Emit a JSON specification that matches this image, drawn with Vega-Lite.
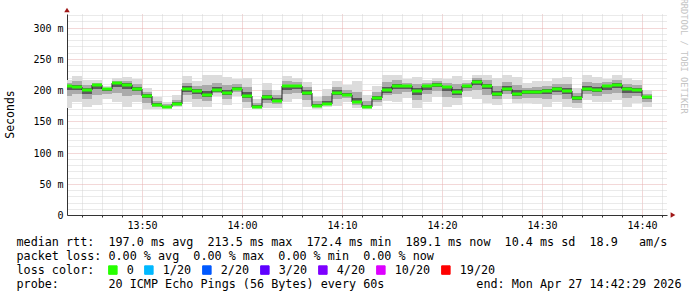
{
  "$schema": "https://vega.github.io/schema/vega-lite/v6.json",
  "width": 600,
  "height": 201,
  "autosize": {"type": "none"},
  "padding": {"left": 67, "top": 14, "right": 30, "bottom": 82},
  "background": "white",
  "title": {"text": "RRDTOOL / TOBI OETIKER", "orient": "right", "anchor": "start", "offset": -2, "font": "DejaVu Sans Mono", "fontSize": 8.7, "fontWeight": "normal", "color": "#c4c4c4", "dx": -9},
  "datasets": {
    "median": [
      {"t":"2026-04-27T13:42","t2":"2026-04-27T13:43","v":207.4,"loss":"0"},
      {"t":"2026-04-27T13:43","t2":"2026-04-27T13:44","v":205.8,"loss":"0"},
      {"t":"2026-04-27T13:44","t2":"2026-04-27T13:45","v":199.9,"loss":"0"},
      {"t":"2026-04-27T13:45","t2":"2026-04-27T13:46","v":208,"loss":"0"},
      {"t":"2026-04-27T13:46","t2":"2026-04-27T13:47","v":201.6,"loss":"0"},
      {"t":"2026-04-27T13:47","t2":"2026-04-27T13:48","v":210.7,"loss":"0"},
      {"t":"2026-04-27T13:48","t2":"2026-04-27T13:49","v":208.6,"loss":"0"},
      {"t":"2026-04-27T13:49","t2":"2026-04-27T13:50","v":202.6,"loss":"0"},
      {"t":"2026-04-27T13:50","t2":"2026-04-27T13:51","v":191.4,"loss":"0"},
      {"t":"2026-04-27T13:51","t2":"2026-04-27T13:52","v":177,"loss":"0"},
      {"t":"2026-04-27T13:52","t2":"2026-04-27T13:53","v":173.3,"loss":"0"},
      {"t":"2026-04-27T13:53","t2":"2026-04-27T13:54","v":177.6,"loss":"0"},
      {"t":"2026-04-27T13:54","t2":"2026-04-27T13:55","v":201.6,"loss":"0"},
      {"t":"2026-04-27T13:55","t2":"2026-04-27T13:56","v":198.9,"loss":"0"},
      {"t":"2026-04-27T13:56","t2":"2026-04-27T13:57","v":193,"loss":"0"},
      {"t":"2026-04-27T13:57","t2":"2026-04-27T13:58","v":199.5,"loss":"0"},
      {"t":"2026-04-27T13:58","t2":"2026-04-27T13:59","v":196.2,"loss":"0"},
      {"t":"2026-04-27T13:59","t2":"2026-04-27T14:00","v":202.2,"loss":"0"},
      {"t":"2026-04-27T14:00","t2":"2026-04-27T14:01","v":191.4,"loss":"0"},
      {"t":"2026-04-27T14:01","t2":"2026-04-27T14:02","v":172.8,"loss":"0"},
      {"t":"2026-04-27T14:02","t2":"2026-04-27T14:03","v":188.8,"loss":"0"},
      {"t":"2026-04-27T14:03","t2":"2026-04-27T14:04","v":183.4,"loss":"0"},
      {"t":"2026-04-27T14:04","t2":"2026-04-27T14:05","v":205.9,"loss":"0"},
      {"t":"2026-04-27T14:05","t2":"2026-04-27T14:06","v":206.5,"loss":"0"},
      {"t":"2026-04-27T14:06","t2":"2026-04-27T14:07","v":196.2,"loss":"0"},
      {"t":"2026-04-27T14:07","t2":"2026-04-27T14:08","v":174.4,"loss":"0"},
      {"t":"2026-04-27T14:08","t2":"2026-04-27T14:09","v":178.4,"loss":"0"},
      {"t":"2026-04-27T14:09","t2":"2026-04-27T14:10","v":196.2,"loss":"0"},
      {"t":"2026-04-27T14:10","t2":"2026-04-27T14:11","v":193,"loss":"0"},
      {"t":"2026-04-27T14:11","t2":"2026-04-27T14:12","v":181.3,"loss":"0"},
      {"t":"2026-04-27T14:12","t2":"2026-04-27T14:13","v":172.4,"loss":"0"},
      {"t":"2026-04-27T14:13","t2":"2026-04-27T14:14","v":187.7,"loss":"0"},
      {"t":"2026-04-27T14:14","t2":"2026-04-27T14:15","v":200.5,"loss":"0"},
      {"t":"2026-04-27T14:15","t2":"2026-04-27T14:16","v":207,"loss":"0"},
      {"t":"2026-04-27T14:16","t2":"2026-04-27T14:17","v":205.9,"loss":"0"},
      {"t":"2026-04-27T14:17","t2":"2026-04-27T14:18","v":198.4,"loss":"0"},
      {"t":"2026-04-27T14:18","t2":"2026-04-27T14:19","v":205.9,"loss":"0"},
      {"t":"2026-04-27T14:19","t2":"2026-04-27T14:20","v":208.6,"loss":"0"},
      {"t":"2026-04-27T14:20","t2":"2026-04-27T14:21","v":204.3,"loss":"0"},
      {"t":"2026-04-27T14:21","t2":"2026-04-27T14:22","v":197.3,"loss":"0"},
      {"t":"2026-04-27T14:22","t2":"2026-04-27T14:23","v":207,"loss":"0"},
      {"t":"2026-04-27T14:23","t2":"2026-04-27T14:24","v":213.5,"loss":"0"},
      {"t":"2026-04-27T14:24","t2":"2026-04-27T14:25","v":207,"loss":"0"},
      {"t":"2026-04-27T14:25","t2":"2026-04-27T14:26","v":194.1,"loss":"0"},
      {"t":"2026-04-27T14:26","t2":"2026-04-27T14:27","v":201.6,"loss":"0"},
      {"t":"2026-04-27T14:27","t2":"2026-04-27T14:28","v":194.1,"loss":"0"},
      {"t":"2026-04-27T14:28","t2":"2026-04-27T14:29","v":197.3,"loss":"0"},
      {"t":"2026-04-27T14:29","t2":"2026-04-27T14:30","v":197.3,"loss":"0"},
      {"t":"2026-04-27T14:30","t2":"2026-04-27T14:31","v":198.9,"loss":"0"},
      {"t":"2026-04-27T14:31","t2":"2026-04-27T14:32","v":201.6,"loss":"0"},
      {"t":"2026-04-27T14:32","t2":"2026-04-27T14:33","v":198.9,"loss":"0"},
      {"t":"2026-04-27T14:33","t2":"2026-04-27T14:34","v":187.2,"loss":"0"},
      {"t":"2026-04-27T14:34","t2":"2026-04-27T14:35","v":202.2,"loss":"0"},
      {"t":"2026-04-27T14:35","t2":"2026-04-27T14:36","v":200.5,"loss":"0"},
      {"t":"2026-04-27T14:36","t2":"2026-04-27T14:37","v":207,"loss":"0"},
      {"t":"2026-04-27T14:37","t2":"2026-04-27T14:38","v":207.5,"loss":"0"},
      {"t":"2026-04-27T14:38","t2":"2026-04-27T14:39","v":201.6,"loss":"0"},
      {"t":"2026-04-27T14:39","t2":"2026-04-27T14:40","v":200.5,"loss":"0"},
      {"t":"2026-04-27T14:40","t2":"2026-04-27T14:41","v":189.1,"loss":"0"}
    ],
    "bands": [
      {"t":"2026-04-27T13:42","t2":"2026-04-27T13:43","band":"b1","v":171.7,"v2":216.6},
      {"t":"2026-04-27T13:43","t2":"2026-04-27T13:44","band":"b1","v":181.8,"v2":223},
      {"t":"2026-04-27T13:44","t2":"2026-04-27T13:45","band":"b1","v":172.8,"v2":216.6},
      {"t":"2026-04-27T13:45","t2":"2026-04-27T13:46","band":"b1","v":176.5,"v2":216.6},
      {"t":"2026-04-27T13:46","t2":"2026-04-27T13:47","band":"b1","v":185.6,"v2":205.9},
      {"t":"2026-04-27T13:47","t2":"2026-04-27T13:48","band":"b1","v":181.8,"v2":219.3},
      {"t":"2026-04-27T13:48","t2":"2026-04-27T13:49","band":"b1","v":173.8,"v2":221},
      {"t":"2026-04-27T13:49","t2":"2026-04-27T13:50","band":"b1","v":181.8,"v2":217.7},
      {"t":"2026-04-27T13:50","t2":"2026-04-27T13:51","band":"b1","v":169.6,"v2":203.2},
      {"t":"2026-04-27T13:51","t2":"2026-04-27T13:52","band":"b1","v":169.6,"v2":189.8},
      {"t":"2026-04-27T13:52","t2":"2026-04-27T13:53","band":"b1","v":169.6,"v2":181.8},
      {"t":"2026-04-27T13:53","t2":"2026-04-27T13:54","band":"b1","v":172.8,"v2":192.5},
      {"t":"2026-04-27T13:54","t2":"2026-04-27T13:55","band":"b1","v":181.8,"v2":223},
      {"t":"2026-04-27T13:55","t2":"2026-04-27T13:56","band":"b1","v":173.8,"v2":213.9},
      {"t":"2026-04-27T13:56","t2":"2026-04-27T13:57","band":"b1","v":173.8,"v2":224.6},
      {"t":"2026-04-27T13:57","t2":"2026-04-27T13:58","band":"b1","v":190,"v2":224.6},
      {"t":"2026-04-27T13:58","t2":"2026-04-27T13:59","band":"b1","v":176.5,"v2":221},
      {"t":"2026-04-27T13:59","t2":"2026-04-27T14:00","band":"b1","v":191,"v2":217.7},
      {"t":"2026-04-27T14:00","t2":"2026-04-27T14:01","band":"b1","v":171.2,"v2":219.3},
      {"t":"2026-04-27T14:01","t2":"2026-04-27T14:02","band":"b1","v":169.6,"v2":185.6},
      {"t":"2026-04-27T14:02","t2":"2026-04-27T14:03","band":"b1","v":171.2,"v2":211.3},
      {"t":"2026-04-27T14:03","t2":"2026-04-27T14:04","band":"b1","v":172.1,"v2":200.5},
      {"t":"2026-04-27T14:04","t2":"2026-04-27T14:05","band":"b1","v":181.8,"v2":223},
      {"t":"2026-04-27T14:05","t2":"2026-04-27T14:06","band":"b1","v":185.6,"v2":219.3},
      {"t":"2026-04-27T14:06","t2":"2026-04-27T14:07","band":"b1","v":173.5,"v2":213},
      {"t":"2026-04-27T14:07","t2":"2026-04-27T14:08","band":"b1","v":170.5,"v2":189.8},
      {"t":"2026-04-27T14:08","t2":"2026-04-27T14:09","band":"b1","v":172.8,"v2":202.4},
      {"t":"2026-04-27T14:09","t2":"2026-04-27T14:10","band":"b1","v":174.9,"v2":215},
      {"t":"2026-04-27T14:10","t2":"2026-04-27T14:11","band":"b1","v":181.8,"v2":208.6},
      {"t":"2026-04-27T14:11","t2":"2026-04-27T14:12","band":"b1","v":171.2,"v2":213.9},
      {"t":"2026-04-27T14:12","t2":"2026-04-27T14:13","band":"b1","v":169.6,"v2":192.5},
      {"t":"2026-04-27T14:13","t2":"2026-04-27T14:14","band":"b1","v":174.9,"v2":205.9},
      {"t":"2026-04-27T14:14","t2":"2026-04-27T14:15","band":"b1","v":182.9,"v2":224.6},
      {"t":"2026-04-27T14:15","t2":"2026-04-27T14:16","band":"b1","v":181.8,"v2":224.6},
      {"t":"2026-04-27T14:16","t2":"2026-04-27T14:17","band":"b1","v":187.2,"v2":217.7},
      {"t":"2026-04-27T14:17","t2":"2026-04-27T14:18","band":"b1","v":172.1,"v2":221},
      {"t":"2026-04-27T14:18","t2":"2026-04-27T14:19","band":"b1","v":181.8,"v2":216.6},
      {"t":"2026-04-27T14:19","t2":"2026-04-27T14:20","band":"b1","v":189.8,"v2":219.3},
      {"t":"2026-04-27T14:20","t2":"2026-04-27T14:21","band":"b1","v":173.8,"v2":217.7},
      {"t":"2026-04-27T14:21","t2":"2026-04-27T14:22","band":"b1","v":176.5,"v2":221.9},
      {"t":"2026-04-27T14:22","t2":"2026-04-27T14:23","band":"b1","v":189.8,"v2":216.6},
      {"t":"2026-04-27T14:23","t2":"2026-04-27T14:24","band":"b1","v":185.6,"v2":224.6},
      {"t":"2026-04-27T14:24","t2":"2026-04-27T14:25","band":"b1","v":179.2,"v2":224.6},
      {"t":"2026-04-27T14:25","t2":"2026-04-27T14:26","band":"b1","v":176.5,"v2":219.3},
      {"t":"2026-04-27T14:26","t2":"2026-04-27T14:27","band":"b1","v":185.6,"v2":224.6},
      {"t":"2026-04-27T14:27","t2":"2026-04-27T14:28","band":"b1","v":179.2,"v2":221},
      {"t":"2026-04-27T14:28","t2":"2026-04-27T14:29","band":"b1","v":179.2,"v2":211.3},
      {"t":"2026-04-27T14:29","t2":"2026-04-27T14:30","band":"b1","v":178.1,"v2":213.9},
      {"t":"2026-04-27T14:30","t2":"2026-04-27T14:31","band":"b1","v":172.8,"v2":213.9},
      {"t":"2026-04-27T14:31","t2":"2026-04-27T14:32","band":"b1","v":181.8,"v2":219.3},
      {"t":"2026-04-27T14:32","t2":"2026-04-27T14:33","band":"b1","v":173.8,"v2":221},
      {"t":"2026-04-27T14:33","t2":"2026-04-27T14:34","band":"b1","v":171.2,"v2":203.2},
      {"t":"2026-04-27T14:34","t2":"2026-04-27T14:35","band":"b1","v":184.5,"v2":224.6},
      {"t":"2026-04-27T14:35","t2":"2026-04-27T14:36","band":"b1","v":181.8,"v2":221},
      {"t":"2026-04-27T14:36","t2":"2026-04-27T14:37","band":"b1","v":180.8,"v2":217.7},
      {"t":"2026-04-27T14:37","t2":"2026-04-27T14:38","band":"b1","v":184.5,"v2":224.6},
      {"t":"2026-04-27T14:38","t2":"2026-04-27T14:39","band":"b1","v":173.8,"v2":219.3},
      {"t":"2026-04-27T14:39","t2":"2026-04-27T14:40","band":"b1","v":179.2,"v2":216.6},
      {"t":"2026-04-27T14:40","t2":"2026-04-27T14:41","band":"b1","v":173.8,"v2":199.5},
      {"t":"2026-04-27T13:42","t2":"2026-04-27T13:43","band":"b2","v":190,"v2":212},
      {"t":"2026-04-27T13:43","t2":"2026-04-27T13:44","band":"b2","v":194,"v2":214},
      {"t":"2026-04-27T13:44","t2":"2026-04-27T13:45","band":"b2","v":186,"v2":208},
      {"t":"2026-04-27T13:45","t2":"2026-04-27T13:46","band":"b2","v":192,"v2":212},
      {"t":"2026-04-27T13:46","t2":"2026-04-27T13:47","band":"b2","v":194,"v2":204},
      {"t":"2026-04-27T13:47","t2":"2026-04-27T13:48","band":"b2","v":196,"v2":215},
      {"t":"2026-04-27T13:48","t2":"2026-04-27T13:49","band":"b2","v":191,"v2":215},
      {"t":"2026-04-27T13:49","t2":"2026-04-27T13:50","band":"b2","v":192,"v2":210},
      {"t":"2026-04-27T13:50","t2":"2026-04-27T13:51","band":"b2","v":180,"v2":197},
      {"t":"2026-04-27T13:51","t2":"2026-04-27T13:52","band":"b2","v":173,"v2":183},
      {"t":"2026-04-27T13:52","t2":"2026-04-27T13:53","band":"b2","v":171.5,"v2":177.5},
      {"t":"2026-04-27T13:53","t2":"2026-04-27T13:54","band":"b2","v":175,"v2":185},
      {"t":"2026-04-27T13:54","t2":"2026-04-27T13:55","band":"b2","v":192,"v2":212},
      {"t":"2026-04-27T13:55","t2":"2026-04-27T13:56","band":"b2","v":186,"v2":206},
      {"t":"2026-04-27T13:56","t2":"2026-04-27T13:57","band":"b2","v":183,"v2":209},
      {"t":"2026-04-27T13:57","t2":"2026-04-27T13:58","band":"b2","v":195,"v2":212},
      {"t":"2026-04-27T13:58","t2":"2026-04-27T13:59","band":"b2","v":186,"v2":208},
      {"t":"2026-04-27T13:59","t2":"2026-04-27T14:00","band":"b2","v":196.5,"v2":210},
      {"t":"2026-04-27T14:00","t2":"2026-04-27T14:01","band":"b2","v":181,"v2":205},
      {"t":"2026-04-27T14:01","t2":"2026-04-27T14:02","band":"b2","v":171,"v2":179},
      {"t":"2026-04-27T14:02","t2":"2026-04-27T14:03","band":"b2","v":180,"v2":200},
      {"t":"2026-04-27T14:03","t2":"2026-04-27T14:04","band":"b2","v":178,"v2":192},
      {"t":"2026-04-27T14:04","t2":"2026-04-27T14:05","band":"b2","v":194,"v2":214},
      {"t":"2026-04-27T14:05","t2":"2026-04-27T14:06","band":"b2","v":196,"v2":213},
      {"t":"2026-04-27T14:06","t2":"2026-04-27T14:07","band":"b2","v":185,"v2":205},
      {"t":"2026-04-27T14:07","t2":"2026-04-27T14:08","band":"b2","v":172.5,"v2":182},
      {"t":"2026-04-27T14:08","t2":"2026-04-27T14:09","band":"b2","v":175.5,"v2":190},
      {"t":"2026-04-27T14:09","t2":"2026-04-27T14:10","band":"b2","v":185.5,"v2":205.5},
      {"t":"2026-04-27T14:10","t2":"2026-04-27T14:11","band":"b2","v":187.5,"v2":201},
      {"t":"2026-04-27T14:11","t2":"2026-04-27T14:12","band":"b2","v":176,"v2":197.5},
      {"t":"2026-04-27T14:12","t2":"2026-04-27T14:13","band":"b2","v":171,"v2":182},
      {"t":"2026-04-27T14:13","t2":"2026-04-27T14:14","band":"b2","v":181,"v2":197},
      {"t":"2026-04-27T14:14","t2":"2026-04-27T14:15","band":"b2","v":191.5,"v2":212.5},
      {"t":"2026-04-27T14:15","t2":"2026-04-27T14:16","band":"b2","v":194,"v2":216},
      {"t":"2026-04-27T14:16","t2":"2026-04-27T14:17","band":"b2","v":196.5,"v2":212},
      {"t":"2026-04-27T14:17","t2":"2026-04-27T14:18","band":"b2","v":185,"v2":210},
      {"t":"2026-04-27T14:18","t2":"2026-04-27T14:19","band":"b2","v":194,"v2":211},
      {"t":"2026-04-27T14:19","t2":"2026-04-27T14:20","band":"b2","v":199,"v2":214},
      {"t":"2026-04-27T14:20","t2":"2026-04-27T14:21","band":"b2","v":189,"v2":211},
      {"t":"2026-04-27T14:21","t2":"2026-04-27T14:22","band":"b2","v":187,"v2":210},
      {"t":"2026-04-27T14:22","t2":"2026-04-27T14:23","band":"b2","v":198.5,"v2":212},
      {"t":"2026-04-27T14:23","t2":"2026-04-27T14:24","band":"b2","v":199.5,"v2":219},
      {"t":"2026-04-27T14:24","t2":"2026-04-27T14:25","band":"b2","v":193,"v2":216},
      {"t":"2026-04-27T14:25","t2":"2026-04-27T14:26","band":"b2","v":185.5,"v2":207},
      {"t":"2026-04-27T14:26","t2":"2026-04-27T14:27","band":"b2","v":193.5,"v2":213},
      {"t":"2026-04-27T14:27","t2":"2026-04-27T14:28","band":"b2","v":186.5,"v2":207.5},
      {"t":"2026-04-27T14:28","t2":"2026-04-27T14:29","band":"b2","v":188,"v2":204},
      {"t":"2026-04-27T14:29","t2":"2026-04-27T14:30","band":"b2","v":187.5,"v2":205.5},
      {"t":"2026-04-27T14:30","t2":"2026-04-27T14:31","band":"b2","v":186,"v2":206.5},
      {"t":"2026-04-27T14:31","t2":"2026-04-27T14:32","band":"b2","v":191.5,"v2":210.5},
      {"t":"2026-04-27T14:32","t2":"2026-04-27T14:33","band":"b2","v":186,"v2":210},
      {"t":"2026-04-27T14:33","t2":"2026-04-27T14:34","band":"b2","v":179,"v2":195},
      {"t":"2026-04-27T14:34","t2":"2026-04-27T14:35","band":"b2","v":193.5,"v2":213.5},
      {"t":"2026-04-27T14:35","t2":"2026-04-27T14:36","band":"b2","v":191,"v2":211},
      {"t":"2026-04-27T14:36","t2":"2026-04-27T14:37","band":"b2","v":194,"v2":212.5},
      {"t":"2026-04-27T14:37","t2":"2026-04-27T14:38","band":"b2","v":196,"v2":216},
      {"t":"2026-04-27T14:38","t2":"2026-04-27T14:39","band":"b2","v":187.5,"v2":210.5},
      {"t":"2026-04-27T14:39","t2":"2026-04-27T14:40","band":"b2","v":190,"v2":208.5},
      {"t":"2026-04-27T14:40","t2":"2026-04-27T14:41","band":"b2","v":181.5,"v2":194.5},
      {"t":"2026-04-27T13:42","t2":"2026-04-27T13:43","band":"b3","v":200,"v2":209},
      {"t":"2026-04-27T13:43","t2":"2026-04-27T13:44","band":"b3","v":201,"v2":209},
      {"t":"2026-04-27T13:44","t2":"2026-04-27T13:45","band":"b3","v":194,"v2":203},
      {"t":"2026-04-27T13:45","t2":"2026-04-27T13:46","band":"b3","v":202,"v2":210},
      {"t":"2026-04-27T13:46","t2":"2026-04-27T13:47","band":"b3","v":198,"v2":202.5},
      {"t":"2026-04-27T13:47","t2":"2026-04-27T13:48","band":"b3","v":205,"v2":212},
      {"t":"2026-04-27T13:48","t2":"2026-04-27T13:49","band":"b3","v":202,"v2":211},
      {"t":"2026-04-27T13:49","t2":"2026-04-27T13:50","band":"b3","v":198.5,"v2":205.5},
      {"t":"2026-04-27T13:50","t2":"2026-04-27T13:51","band":"b3","v":187,"v2":194},
      {"t":"2026-04-27T13:51","t2":"2026-04-27T13:52","band":"b3","v":175.5,"v2":179.5},
      {"t":"2026-04-27T13:52","t2":"2026-04-27T13:53","band":"b3","v":172.5,"v2":175},
      {"t":"2026-04-27T13:53","t2":"2026-04-27T13:54","band":"b3","v":176.5,"v2":180.5},
      {"t":"2026-04-27T13:54","t2":"2026-04-27T13:55","band":"b3","v":197.5,"v2":206},
      {"t":"2026-04-27T13:55","t2":"2026-04-27T13:56","band":"b3","v":194,"v2":202},
      {"t":"2026-04-27T13:56","t2":"2026-04-27T13:57","band":"b3","v":189,"v2":199},
      {"t":"2026-04-27T13:57","t2":"2026-04-27T13:58","band":"b3","v":197.5,"v2":204.5},
      {"t":"2026-04-27T13:58","t2":"2026-04-27T13:59","band":"b3","v":192,"v2":201},
      {"t":"2026-04-27T13:59","t2":"2026-04-27T14:00","band":"b3","v":200,"v2":205},
      {"t":"2026-04-27T14:00","t2":"2026-04-27T14:01","band":"b3","v":187,"v2":197},
      {"t":"2026-04-27T14:01","t2":"2026-04-27T14:02","band":"b3","v":172,"v2":175.5},
      {"t":"2026-04-27T14:02","t2":"2026-04-27T14:03","band":"b3","v":185,"v2":193},
      {"t":"2026-04-27T14:03","t2":"2026-04-27T14:04","band":"b3","v":181,"v2":187},
      {"t":"2026-04-27T14:04","t2":"2026-04-27T14:05","band":"b3","v":201,"v2":209},
      {"t":"2026-04-27T14:05","t2":"2026-04-27T14:06","band":"b3","v":202,"v2":209},
      {"t":"2026-04-27T14:06","t2":"2026-04-27T14:07","band":"b3","v":191.5,"v2":199.5},
      {"t":"2026-04-27T14:07","t2":"2026-04-27T14:08","band":"b3","v":173.5,"v2":177.5},
      {"t":"2026-04-27T14:08","t2":"2026-04-27T14:09","band":"b3","v":177,"v2":183},
      {"t":"2026-04-27T14:09","t2":"2026-04-27T14:10","band":"b3","v":192,"v2":200},
      {"t":"2026-04-27T14:10","t2":"2026-04-27T14:11","band":"b3","v":191,"v2":196},
      {"t":"2026-04-27T14:11","t2":"2026-04-27T14:12","band":"b3","v":179,"v2":188},
      {"t":"2026-04-27T14:12","t2":"2026-04-27T14:13","band":"b3","v":172,"v2":176},
      {"t":"2026-04-27T14:13","t2":"2026-04-27T14:14","band":"b3","v":185,"v2":191},
      {"t":"2026-04-27T14:14","t2":"2026-04-27T14:15","band":"b3","v":196,"v2":205},
      {"t":"2026-04-27T14:15","t2":"2026-04-27T14:16","band":"b3","v":202,"v2":210.5},
      {"t":"2026-04-27T14:16","t2":"2026-04-27T14:17","band":"b3","v":202,"v2":208},
      {"t":"2026-04-27T14:17","t2":"2026-04-27T14:18","band":"b3","v":193,"v2":203},
      {"t":"2026-04-27T14:18","t2":"2026-04-27T14:19","band":"b3","v":201,"v2":208},
      {"t":"2026-04-27T14:19","t2":"2026-04-27T14:20","band":"b3","v":205,"v2":211},
      {"t":"2026-04-27T14:20","t2":"2026-04-27T14:21","band":"b3","v":198,"v2":207},
      {"t":"2026-04-27T14:21","t2":"2026-04-27T14:22","band":"b3","v":193,"v2":202},
      {"t":"2026-04-27T14:22","t2":"2026-04-27T14:23","band":"b3","v":203.5,"v2":209},
      {"t":"2026-04-27T14:23","t2":"2026-04-27T14:24","band":"b3","v":208,"v2":215.5},
      {"t":"2026-04-27T14:24","t2":"2026-04-27T14:25","band":"b3","v":201.5,"v2":210.5},
      {"t":"2026-04-27T14:25","t2":"2026-04-27T14:26","band":"b3","v":190.5,"v2":199},
      {"t":"2026-04-27T14:26","t2":"2026-04-27T14:27","band":"b3","v":198.5,"v2":206},
      {"t":"2026-04-27T14:27","t2":"2026-04-27T14:28","band":"b3","v":191,"v2":199.5},
      {"t":"2026-04-27T14:28","t2":"2026-04-27T14:29","band":"b3","v":193.5,"v2":200},
      {"t":"2026-04-27T14:29","t2":"2026-04-27T14:30","band":"b3","v":193.5,"v2":200.5},
      {"t":"2026-04-27T14:30","t2":"2026-04-27T14:31","band":"b3","v":193.5,"v2":202},
      {"t":"2026-04-27T14:31","t2":"2026-04-27T14:32","band":"b3","v":197.5,"v2":205},
      {"t":"2026-04-27T14:32","t2":"2026-04-27T14:33","band":"b3","v":194,"v2":203},
      {"t":"2026-04-27T14:33","t2":"2026-04-27T14:34","band":"b3","v":184,"v2":190.5},
      {"t":"2026-04-27T14:34","t2":"2026-04-27T14:35","band":"b3","v":198.5,"v2":206.5},
      {"t":"2026-04-27T14:35","t2":"2026-04-27T14:36","band":"b3","v":197,"v2":204.5},
      {"t":"2026-04-27T14:36","t2":"2026-04-27T14:37","band":"b3","v":200,"v2":209},
      {"t":"2026-04-27T14:37","t2":"2026-04-27T14:38","band":"b3","v":203,"v2":211},
      {"t":"2026-04-27T14:38","t2":"2026-04-27T14:39","band":"b3","v":196,"v2":205},
      {"t":"2026-04-27T14:39","t2":"2026-04-27T14:40","band":"b3","v":196,"v2":203.5},
      {"t":"2026-04-27T14:40","t2":"2026-04-27T14:41","band":"b3","v":186,"v2":191}
    ],
    "arrowTop": [{"t": "2026-04-27T13:42:30", "v": 328}],
    "arrowRight": [{"t": "2026-04-27T14:43:06", "v": 0}]
  },
  "encoding": {
    "x": {"field": "t", "type": "temporal",
      "scale": {"domain": [{"year": 2026, "month": 4, "date": 27, "hours": 13, "minutes": 42, "seconds": 30}, {"year": 2026, "month": 4, "date": 27, "hours": 14, "minutes": 42, "seconds": 30}], "round": true},
      "axis": {
        "title": ["median rtt:\u00a0\u00a0197.0 ms avg\u00a0\u00a0213.5 ms max\u00a0\u00a0172.4 ms min\u00a0\u00a0189.1 ms now\u00a0\u00a010.4 ms sd\u00a0\u00a018.9\u00a0\u00a0\u00a0am/s",
                  "packet loss: 0.00 % avg\u00a0\u00a00.00 % max\u00a0\u00a00.00 % min\u00a0\u00a00.00 % now",
                  "loss color:",
                  "probe:\u00a0\u00a0\u00a0\u00a0\u00a0\u00a0\u00a020 ICMP Echo Pings (56 Bytes) every 60s\u00a0\u00a0\u00a0\u00a0\u00a0\u00a0\u00a0\u00a0\u00a0\u00a0\u00a0\u00a0\u00a0end: Mon Apr 27 14:42:29 2026"],
        "titleFont": "DejaVu Sans Mono", "titleFontSize": 11.75, "titleFontWeight": "normal", "titleColor": "#000000",
        "titleAlign": "left", "titleAnchor": "start", "titleX": -51, "titleY": 30, "titleBaseline": "alphabetic", "titleLineHeight": 14, "titleLimit": 1000,
        "values": [
          {"year": 2026, "month": 4, "date": 27, "hours": 13, "minutes": 44},
          {"year": 2026, "month": 4, "date": 27, "hours": 13, "minutes": 46},
          {"year": 2026, "month": 4, "date": 27, "hours": 13, "minutes": 48},
          {"year": 2026, "month": 4, "date": 27, "hours": 13, "minutes": 50},
          {"year": 2026, "month": 4, "date": 27, "hours": 13, "minutes": 52},
          {"year": 2026, "month": 4, "date": 27, "hours": 13, "minutes": 54},
          {"year": 2026, "month": 4, "date": 27, "hours": 13, "minutes": 56},
          {"year": 2026, "month": 4, "date": 27, "hours": 13, "minutes": 58},
          {"year": 2026, "month": 4, "date": 27, "hours": 14, "minutes": 0},
          {"year": 2026, "month": 4, "date": 27, "hours": 14, "minutes": 2},
          {"year": 2026, "month": 4, "date": 27, "hours": 14, "minutes": 4},
          {"year": 2026, "month": 4, "date": 27, "hours": 14, "minutes": 6},
          {"year": 2026, "month": 4, "date": 27, "hours": 14, "minutes": 8},
          {"year": 2026, "month": 4, "date": 27, "hours": 14, "minutes": 10},
          {"year": 2026, "month": 4, "date": 27, "hours": 14, "minutes": 12},
          {"year": 2026, "month": 4, "date": 27, "hours": 14, "minutes": 14},
          {"year": 2026, "month": 4, "date": 27, "hours": 14, "minutes": 16},
          {"year": 2026, "month": 4, "date": 27, "hours": 14, "minutes": 18},
          {"year": 2026, "month": 4, "date": 27, "hours": 14, "minutes": 20},
          {"year": 2026, "month": 4, "date": 27, "hours": 14, "minutes": 22},
          {"year": 2026, "month": 4, "date": 27, "hours": 14, "minutes": 24},
          {"year": 2026, "month": 4, "date": 27, "hours": 14, "minutes": 26},
          {"year": 2026, "month": 4, "date": 27, "hours": 14, "minutes": 28},
          {"year": 2026, "month": 4, "date": 27, "hours": 14, "minutes": 30},
          {"year": 2026, "month": 4, "date": 27, "hours": 14, "minutes": 32},
          {"year": 2026, "month": 4, "date": 27, "hours": 14, "minutes": 34},
          {"year": 2026, "month": 4, "date": 27, "hours": 14, "minutes": 36},
          {"year": 2026, "month": 4, "date": 27, "hours": 14, "minutes": 38},
          {"year": 2026, "month": 4, "date": 27, "hours": 14, "minutes": 40},
          {"year": 2026, "month": 4, "date": 27, "hours": 14, "minutes": 42}
        ],
        "labelExpr": "minutes(datum.value) % 10 === 0 ? timeFormat(datum.value, '%H:%M') : ''",
        "labelFont": "DejaVu Sans Mono", "labelFontSize": 10, "labelColor": "#000000", "labelPadding": 3, "labelOverlap": false, "labelFlush": false,
        "grid": true, "gridDash": [1, 1], "gridWidth": 1,
        "gridColor": {"condition": {"test": "minutes(datum.value) % 10 === 0", "value": "#e6b0b0"}, "value": "#d4d4d4"},
        "domainColor": "#333333", "tickColor": "#333333", "tickSize": 2
      }
    },
    "y": {"field": "v", "type": "quantitative",
      "scale": {"domain": [0, 322], "nice": false, "zero": true, "round": true},
      "axis": {
        "title": "Seconds", "titleFont": "DejaVu Sans Mono", "titleFontSize": 11.5, "titleFontWeight": "normal", "titleColor": "#000000",
        "titleX": -57, "titleY": 100, "titleAlign": "center", "titleBaseline": "middle",
        "values": [0,10,20,30,40,50,60,70,80,90,100,110,120,130,140,150,160,170,180,190,200,210,220,230,240,250,260,270,280,290,300,310,320],
        "labelExpr": "datum.value % 50 === 0 ? (datum.value === 0 ? '0\u00a0\u00a0' : datum.value + ' m') : ''",
        "labelFont": "DejaVu Sans Mono", "labelFontSize": 10, "labelColor": "#000000", "labelPadding": 4, "labelOverlap": false,
        "grid": true, "gridDash": [1, 1], "gridWidth": 1,
        "gridColor": {"condition": {"test": "datum.value % 50 === 0", "value": "#e6b0b0"}, "value": "#d4d4d4"},
        "domainColor": "#333333", "ticks": false
      }
    }
  },
  "layer": [
    {
      "data": {"name": "bands"},
      "transform": [{"filter": "datum.band === 'b1'"}],
      "mark": {"type": "rect", "color": "#dcdcdc", "clip": true},
      "encoding": {"x2": {"field": "t2"}, "y2": {"field": "v2"}}
    },
    {
      "data": {"name": "bands"},
      "transform": [{"filter": "datum.band === 'b2'"}],
      "mark": {"type": "rect", "color": "#ababab", "clip": true},
      "encoding": {"x2": {"field": "t2"}, "y2": {"field": "v2"}}
    },
    {
      "data": {"name": "bands"},
      "transform": [{"filter": "datum.band === 'b3'"}],
      "mark": {"type": "rect", "color": "#5a5a5a", "clip": true},
      "encoding": {"x2": {"field": "t2"}, "y2": {"field": "v2"}}
    },
    {
      "data": {"name": "median"},
      "mark": {"type": "line", "interpolate": "step-after", "color": "#202020", "strokeWidth": 1, "clip": true},
      "encoding": {}
    },
    {
      "data": {"name": "median"},
      "mark": {"type": "rule", "strokeWidth": 3, "clip": true},
      "encoding": {
        "x2": {"field": "t2"},
        "stroke": {"field": "loss", "type": "nominal",
          "scale": {"domain": ["0", "1/20", "2/20", "3/20", "4/20", "10/20", "19/20"], "range": ["#26ff00", "#00b8ff", "#0059ff", "#5e00ff", "#7e00ff", "#dd00ff", "#ff0000"]},
          "legend": {
            "title": null, "orient": "none", "legendX": 40, "legendY": 250, "direction": "horizontal",
            "labelFont": "DejaVu Sans Mono", "labelFontSize": 11.75, "labelColor": "#000000", "labelOffset": 8, "labelLimit": 300,
            "columnPadding": 8, "padding": 0,
            "symbolType": "square", "symbolSize": 72, "symbolStrokeColor": "#000000", "symbolStrokeWidth": 1, "symbolOpacity": 1,
            "encode": {"symbols": {"update": {"fill": {"scale": "stroke", "field": "value"}, "stroke": {"value": "#000000"}, "strokeWidth": {"value": 1}, "opacity": {"value": 1}}}}
          }
        }
      }
    },
    {
      "data": {"name": "arrowTop"},
      "mark": {"type": "point", "shape": "triangle-up", "filled": true, "color": "#a01818", "size": 30, "opacity": 1}
    },
    {
      "data": {"name": "arrowRight"},
      "mark": {"type": "point", "shape": "triangle-right", "filled": true, "color": "#a01818", "size": 30, "opacity": 1}
    }
  ],
  "config": {"view": {"stroke": null}, "font": "DejaVu Sans Mono"}
}
